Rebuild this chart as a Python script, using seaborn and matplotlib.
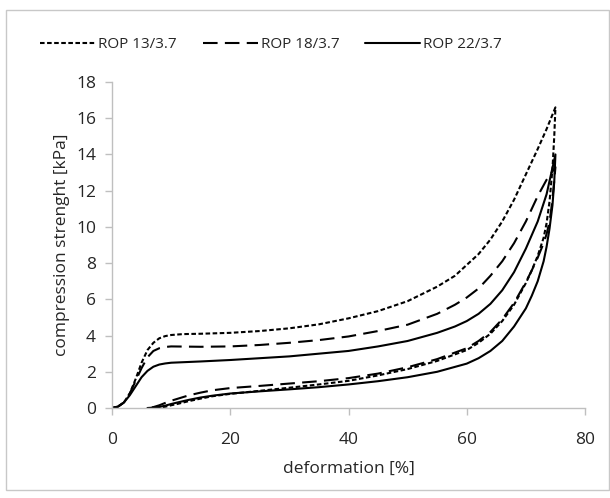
import matplotlib
matplotlib.use("Agg")
import matplotlib.pyplot as plt
import seaborn as sns
import pandas as pd
from matplotlib.patches import Rectangle

# ---- data ----
series_names = ["ROP 13/3.7", "ROP 18/3.7", "ROP 22/3.7"]

# loading branches
load13_x = [0, 1, 2, 3, 4, 5, 6, 7, 8, 9, 10, 12, 15, 20, 25, 30, 35, 40, 45, 50, 55, 58, 60, 62, 64, 66, 68, 70, 72, 73.5, 75]
load13_y = [0, 0.08, 0.3, 0.8, 1.6, 2.5, 3.2, 3.6, 3.85, 3.97, 4.03, 4.08, 4.1, 4.15, 4.25, 4.4, 4.62, 4.95, 5.35, 5.9, 6.7, 7.3, 7.9, 8.5, 9.3, 10.3, 11.5, 12.9, 14.3, 15.4, 16.6]
load18_x = [0, 1, 2, 3, 4, 5, 6, 7, 8, 9, 10, 15, 20, 25, 30, 35, 40, 45, 50, 55, 58, 60, 62, 64, 66, 68, 70, 72, 73.5, 75]
load18_y = [0, 0.08, 0.3, 0.8, 1.5, 2.2, 2.8, 3.15, 3.3, 3.37, 3.4, 3.38, 3.4, 3.48, 3.6, 3.75, 3.95, 4.25, 4.6, 5.2, 5.7, 6.1, 6.6, 7.3, 8.1, 9.1, 10.3, 11.7, 12.6, 13.3]
load22_x = [0, 1, 2, 3, 4, 5, 6, 7, 8, 9, 10, 15, 20, 25, 30, 35, 40, 45, 50, 55, 58, 60, 62, 64, 66, 68, 70, 72, 73.5, 75]
load22_y = [0, 0.07, 0.3, 0.7, 1.2, 1.7, 2.05, 2.28, 2.4, 2.46, 2.5, 2.57, 2.65, 2.75, 2.85, 3.0, 3.15, 3.4, 3.7, 4.15, 4.5, 4.8, 5.2, 5.75, 6.5, 7.5, 8.8, 10.3, 11.8, 14.0]

# unloading branches (from the peak back down)
unload13_x = [75, 74.8, 74.5, 74, 73.5, 73, 72, 71, 70, 68, 66, 64, 62, 60, 55, 50, 45, 40, 35, 30, 25, 20, 17, 15, 13, 11, 10, 9, 8, 7]
unload13_y = [16.6, 15.0, 13.2, 11.4, 10.2, 9.4, 8.4, 7.6, 6.9, 5.7, 4.8, 4.1, 3.6, 3.2, 2.6, 2.15, 1.8, 1.5, 1.3, 1.12, 0.95, 0.78, 0.65, 0.52, 0.38, 0.22, 0.15, 0.07, 0.02, 0]
unload18_x = [75, 74.7, 74.3, 74, 73.5, 73, 72, 71, 70, 68, 66, 64, 62, 60, 55, 50, 45, 40, 35, 30, 25, 20, 17, 15, 13, 11, 10, 9, 8, 7, 6]
unload18_y = [13.3, 12.2, 11.0, 10.3, 9.6, 9.1, 8.3, 7.6, 6.95, 5.8, 4.9, 4.2, 3.7, 3.3, 2.7, 2.25, 1.9, 1.65, 1.48, 1.35, 1.22, 1.1, 0.98, 0.85, 0.7, 0.5, 0.4, 0.28, 0.15, 0.05, 0]
unload22_x = [75, 74.8, 74.5, 74, 73.5, 73, 72, 71, 70, 68, 66, 64, 62, 60, 55, 50, 45, 40, 35, 30, 25, 20, 17, 15, 13, 11, 10, 9, 8, 7, 6]
unload22_y = [14.0, 12.5, 11.2, 9.9, 8.9, 8.1, 7.0, 6.2, 5.5, 4.5, 3.7, 3.15, 2.75, 2.45, 2.0, 1.7, 1.48, 1.3, 1.15, 1.03, 0.92, 0.8, 0.68, 0.58, 0.45, 0.3, 0.22, 0.13, 0.06, 0.02, 0]

x_ticks = [0, 20, 40, 60, 80]
y_ticks = [0, 2, 4, 6, 8, 10, 12, 14, 16, 18]

# ---- plotting ----
sns.set_theme(style="white")
plt.rcParams["font.family"] = ["Open Sans", "DejaVu Sans"]

fig = plt.figure(figsize=(6.10, 4.98), dpi=100)
ax = fig.add_axes([112 / 610, 1 - 408 / 498, (585 - 112) / 610, (408 - 82) / 498])

styles = {
    "ROP 13/3.7": (0, (2.2, 1.2)),
    "ROP 18/3.7": (0, (7, 3.5)),
    "ROP 22/3.7": "-",
}
loops = {
    "ROP 13/3.7": (load13_x + unload13_x, load13_y + unload13_y),
    "ROP 18/3.7": (load18_x + unload18_x, load18_y + unload18_y),
    "ROP 22/3.7": (load22_x + unload22_x, load22_y + unload22_y),
}

for name in series_names:
    xs, ys = loops[name]
    df = pd.DataFrame({"deformation": xs, "strength": ys})
    sns.lineplot(data=df, x="deformation", y="strength", sort=False, estimator=None,
                 errorbar=None, ax=ax, color="black", linewidth=1.5,
                 linestyle=styles[name], label=name)

ax.set_xlim(0, 80)
ax.set_ylim(0, 18)
ax.set_xticks(x_ticks)
ax.set_yticks(y_ticks)
ax.set_xlabel("deformation [%]", fontsize=12.5, color="#262626", labelpad=9)
ax.set_ylabel("compression strenght [kPa]", fontsize=12.5, color="#262626", labelpad=4)

for side in ["top", "right"]:
    ax.spines[side].set_visible(False)
for side in ["left", "bottom"]:
    ax.spines[side].set_color("#bfbfbf")
    ax.spines[side].set_linewidth(1.0)
ax.tick_params(axis="both", which="major", direction="out", length=5, width=1.0,
               color="#bfbfbf", labelsize=12.5, labelcolor="#262626")
ax.tick_params(axis="x", pad=12.5)
ax.tick_params(axis="y", pad=6.5)
ax.tick_params(bottom=True, left=True)

leg = ax.legend(loc="center", bbox_to_anchor=(271 / 610, 1 - 45 / 498),
                bbox_transform=fig.transFigure, ncol=3, frameon=False,
                fontsize=11, handlelength=3.6, handletextpad=0.2, columnspacing=1.7,
                borderpad=0, borderaxespad=0)
for line in leg.get_lines():
    line.set_linewidth(1.5)
for t in leg.get_texts():
    t.set_color("#262626")

# outer light-gray border like the reference
fig.patches.append(Rectangle((6 / 610, 1 - 490 / 498), (609 - 6) / 610, (490 - 10) / 498,
                             transform=fig.transFigure, fill=False,
                             edgecolor="#c8c8c8", linewidth=1.0))

fig.savefig("out.png", dpi=100, facecolor="white")
